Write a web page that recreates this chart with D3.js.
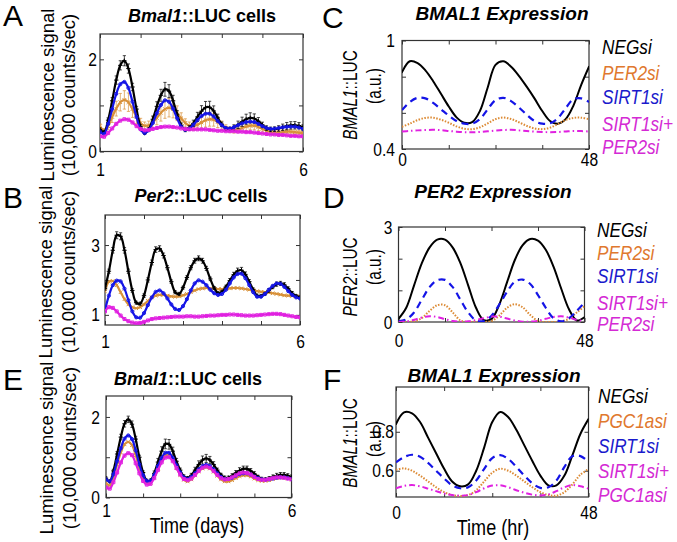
<!DOCTYPE html>
<html>
<head>
<meta charset="utf-8">
<script src="https://cdn.jsdelivr.net/npm/d3@7"></script>
<style>
  body { margin: 0; background: #fff; }
  text { font-family: "Liberation Sans", Arial, sans-serif; }
  .ax text { font-size: 19px; font-family: "Liberation Sans", Arial, sans-serif; fill: #000; }
  .ttl { font-weight: bold; }
  .letter { font-size: 30px; }
  .leg { font-size: 21px; font-style: italic; }
</style>
</head>
<body>
<svg id="fig" width="677" height="542"></svg>
<script>
// ---------- experimental time axis (days) ----------
var days = [1.0,1.1,1.2,1.3,1.4,1.5,1.6,1.7,1.8,1.9,2.0,2.1,2.2,2.3,2.4,2.5,2.6,2.7,2.8,2.9,
            3.0,3.1,3.2,3.3,3.4,3.5,3.6,3.7,3.8,3.9,4.0,4.1,4.2,4.3,4.4,4.5,4.6,4.7,4.8,4.9,
            5.0,5.1,5.2,5.3,5.4,5.5,5.6,5.7,5.8,5.9,6.0];

// Panel A: Bmal1::LUC cells
var blackA = [0.48,0.42,0.68,1.10,1.55,1.87,1.97,1.80,1.40,0.92, 0.54,0.40,0.48,0.70,0.98,1.22,1.35,1.31,1.10,0.81,
              0.57,0.47,0.51,0.61,0.75,0.875,0.956,0.96,0.88,0.73, 0.59,0.49,0.485,0.52,0.58,0.645,0.70,0.73,0.716,0.657,
              0.577,0.508,0.48,0.485,0.50,0.525,0.55,0.567,0.57,0.56, 0.52];
var blackAerr = [0.03,0.03,0.05,0.07,0.09,0.10,0.11,0.10,0.08,0.06, 0.04,0.03,0.04,0.07,0.10,0.13,0.15,0.14,0.12,0.08,
                 0.05,0.04,0.05,0.07,0.10,0.12,0.13,0.13,0.11,0.08, 0.05,0.04,0.04,0.06,0.08,0.10,0.11,0.11,0.10,0.08,
                 0.06,0.05,0.05,0.05,0.06,0.07,0.08,0.08,0.08,0.07, 0.06];
var orangeA = [0.55,0.45,0.55,0.75,0.93,1.07,1.12,1.07,0.92,0.75, 0.62,0.56,0.57,0.63,0.73,0.84,0.92,0.95,0.92,0.83,
               0.72,0.62,0.56,0.55,0.58,0.63,0.68,0.70,0.69,0.64, 0.57,0.51,0.47,0.46,0.48,0.51,0.54,0.56,0.56,0.53,
               0.49,0.45,0.42,0.41,0.41,0.42,0.43,0.43,0.42,0.41, 0.40];
var orangeAerr = [0.05,0.05,0.08,0.12,0.16,0.19,0.20,0.20,0.18,0.14, 0.10,0.08,0.09,0.12,0.15,0.18,0.20,0.20,0.19,0.16,
                  0.12,0.09,0.08,0.09,0.11,0.13,0.15,0.15,0.14,0.12, 0.09,0.07,0.06,0.06,0.07,0.08,0.09,0.09,0.09,0.08,
                  0.07,0.06,0.05,0.05,0.05,0.05,0.05,0.05,0.05,0.05, 0.05];
var blueA = [0.43,0.38,0.60,0.92,1.25,1.46,1.51,1.38,1.08,0.75, 0.48,0.40,0.46,0.62,0.83,1.01,1.11,1.08,0.93,0.72,
             0.54,0.47,0.50,0.58,0.68,0.77,0.82,0.82,0.76,0.66, 0.57,0.51,0.50,0.53,0.57,0.61,0.64,0.65,0.64,0.60,
             0.55,0.51,0.49,0.495,0.51,0.525,0.535,0.54,0.54,0.52, 0.49];
var magentaA = [0.33,0.32,0.40,0.50,0.60,0.67,0.70,0.69,0.63,0.55, 0.49,0.46,0.47,0.49,0.51,0.53,0.54,0.54,0.53,0.52,
                0.50,0.49,0.48,0.48,0.48,0.48,0.48,0.47,0.46,0.45, 0.45,0.44,0.44,0.44,0.43,0.43,0.42,0.42,0.41,0.40,
                0.39,0.38,0.37,0.37,0.36,0.36,0.35,0.34,0.34,0.33, 0.33];

// Panel B: Per2::LUC cells
var blackB = [1.76,2.25,2.85,3.28,3.25,2.85,2.25,1.70,1.35,1.32, 1.55,2.00,2.50,2.87,2.90,2.70,2.35,1.95,1.65,1.60,
              1.78,2.07,2.35,2.55,2.62,2.55,2.33,2.03,1.77,1.62, 1.66,1.80,1.98,2.15,2.26,2.28,2.16,1.95,1.72,1.55,
              1.54,1.60,1.70,1.80,1.88,1.90,1.86,1.75,1.62,1.54, 1.50];
var blackBerr = [0.05,0.06,0.08,0.10,0.10,0.08,0.06,0.05,0.04,0.04, 0.05,0.06,0.07,0.08,0.08,0.07,0.06,0.05,0.04,0.04,
                 0.04,0.05,0.06,0.07,0.07,0.07,0.06,0.05,0.04,0.04, 0.04,0.05,0.06,0.07,0.08,0.08,0.07,0.06,0.05,0.04,
                 0.04,0.04,0.05,0.05,0.06,0.06,0.06,0.05,0.05,0.04, 0.04];
var orangeB = [1.67,1.95,1.97,1.85,1.65,1.45,1.30,1.22,1.19,1.22, 1.30,1.40,1.50,1.55,1.57,1.57,1.55,1.53,1.52,1.53,
               1.56,1.60,1.65,1.70,1.74,1.76,1.77,1.76,1.75,1.74, 1.74,1.75,1.76,1.77,1.77,1.76,1.74,1.72,1.70,1.68,
               1.66,1.65,1.64,1.62,1.60,1.58,1.56,1.55,1.54,1.53, 1.52];
var blueB = [1.14,1.55,1.85,1.98,1.96,1.75,1.42,1.10,0.93,0.92, 1.05,1.28,1.50,1.66,1.70,1.62,1.47,1.30,1.17,1.14,
             1.25,1.45,1.70,1.90,1.99,1.95,1.85,1.72,1.62,1.57, 1.60,1.72,1.90,2.07,2.17,2.18,2.05,1.85,1.65,1.52,
             1.52,1.60,1.72,1.83,1.90,1.89,1.80,1.68,1.57,1.50, 1.47];
var magentaB = [1.10,1.22,1.20,1.10,0.98,0.88,0.82,0.78,0.76,0.77, 0.80,0.84,0.88,0.90,0.91,0.92,0.93,0.94,0.95,0.95,
                0.95,0.96,0.96,0.95,0.95,0.96,0.97,0.98,0.98,0.99, 1.00,1.00,1.01,1.01,1.00,0.99,0.98,0.98,0.98,0.99,
                1.00,1.01,1.02,1.03,1.03,1.02,1.00,0.98,0.96,0.94, 0.93];

// Panel E: Bmal1::LUC cells (PGC1a)
var blackE = [0.48,0.40,0.66,1.08,1.50,1.83,1.94,1.82,1.45,1.00, 0.62,0.42,0.42,0.60,0.88,1.15,1.33,1.32,1.15,0.90,
              0.68,0.52,0.48,0.55,0.68,0.82,0.93,0.97,0.93,0.82, 0.68,0.56,0.49,0.49,0.54,0.61,0.67,0.71,0.71,0.66,
              0.59,0.51,0.46,0.45,0.47,0.51,0.54,0.56,0.56,0.54, 0.51];
var blackEerr = [0.03,0.03,0.04,0.06,0.07,0.08,0.08,0.08,0.07,0.05, 0.04,0.03,0.04,0.06,0.09,0.11,0.12,0.12,0.10,0.07,
                 0.05,0.04,0.04,0.05,0.07,0.09,0.10,0.10,0.09,0.07, 0.05,0.04,0.04,0.04,0.05,0.06,0.07,0.07,0.07,0.06,
                 0.05,0.04,0.04,0.04,0.05,0.05,0.06,0.06,0.06,0.05, 0.05];
var orangeE = [0.35,0.30,0.50,0.82,1.12,1.32,1.38,1.30,1.05,0.73, 0.48,0.35,0.36,0.50,0.72,0.92,1.04,1.04,0.93,0.74,
               0.56,0.44,0.40,0.45,0.55,0.65,0.72,0.75,0.72,0.64, 0.54,0.45,0.40,0.40,0.43,0.48,0.53,0.55,0.55,0.52,
               0.47,0.43,0.41,0.41,0.43,0.46,0.48,0.49,0.49,0.47, 0.45];
var blueE = [0.45,0.40,0.58,0.90,1.22,1.46,1.54,1.45,1.17,0.82, 0.55,0.41,0.41,0.56,0.78,0.98,1.11,1.11,0.98,0.80,
             0.62,0.50,0.46,0.51,0.60,0.70,0.78,0.81,0.78,0.70, 0.60,0.51,0.46,0.46,0.49,0.54,0.58,0.60,0.60,0.57,
             0.52,0.48,0.45,0.44,0.45,0.47,0.49,0.50,0.50,0.48, 0.46];
var magentaE = [0.25,0.22,0.38,0.62,0.87,1.04,1.10,1.05,0.85,0.60, 0.41,0.32,0.34,0.48,0.68,0.87,0.99,1.00,0.90,0.73,
                0.57,0.46,0.43,0.47,0.56,0.66,0.74,0.77,0.74,0.66, 0.56,0.48,0.45,0.46,0.50,0.55,0.60,0.62,0.61,0.57,
                0.51,0.46,0.44,0.44,0.46,0.48,0.50,0.50,0.49,0.47, 0.45];

// ---------- model time axis (hours) ----------
var hours = [0,2,4,6,8,10,12,14,16,18,20,22,24,26,28,30,32,34,36,38,40,42,44,46,48];

// Panel C: BMAL1 expression
var negC   = [0.825,0.885,0.875,0.835,0.775,0.705,0.635,0.575,0.545,0.548,0.61,0.74,0.865,0.885,0.855,0.805,0.745,0.68,0.61,0.555,0.54,0.565,0.64,0.755,0.855];
var per2C  = [0.523,0.54,0.56,0.572,0.573,0.562,0.545,0.525,0.512,0.51,0.52,0.542,0.565,0.574,0.566,0.548,0.528,0.514,0.51,0.518,0.538,0.56,0.572,0.573,0.565];
var sirtC  = [0.615,0.66,0.683,0.68,0.655,0.62,0.585,0.555,0.54,0.54,0.565,0.62,0.67,0.683,0.665,0.63,0.59,0.555,0.54,0.542,0.57,0.625,0.675,0.68,0.66];
var bothC  = [0.497,0.5,0.503,0.505,0.506,0.504,0.5,0.496,0.493,0.492,0.494,0.498,0.502,0.505,0.506,0.503,0.5,0.496,0.494,0.493,0.494,0.497,0.5,0.499,0.497];

// Panel D: PER2 expression
var negD   = [0.1,0.45,1.15,1.85,2.35,2.6,2.6,2.35,1.85,1.15,0.45,0.06,0.1,0.55,1.25,1.95,2.42,2.62,2.57,2.28,1.75,1.05,0.4,0.05,0.15];
var per2D  = [0,0,0.02,0.12,0.35,0.53,0.53,0.3,0.05,0,0,0,0.03,0.2,0.45,0.56,0.47,0.22,0.03,0,0,0.02,0.1,0.3,0.5];
var sirtD  = [0.02,0.08,0.3,0.7,1.1,1.32,1.33,1.1,0.7,0.3,0.05,0.03,0.2,0.55,0.95,1.27,1.34,1.2,0.85,0.45,0.12,0.02,0.12,0.35,0.62];
var bothD  = [0,0.02,0.07,0.14,0.18,0.16,0.09,0.03,0.01,0.02,0.06,0.12,0.17,0.17,0.11,0.05,0.01,0.01,0.04,0.1,0.16,0.18,0.14,0.07,0.03];

// Panel F: BMAL1 expression (PGC1a)
var negF   = [0.84,0.9,0.895,0.85,0.77,0.69,0.61,0.545,0.52,0.53,0.6,0.72,0.85,0.902,0.875,0.81,0.73,0.65,0.575,0.525,0.525,0.575,0.68,0.79,0.865];
var pgcF   = [0.605,0.612,0.6,0.575,0.545,0.515,0.49,0.475,0.47,0.475,0.5,0.545,0.59,0.61,0.6,0.575,0.545,0.515,0.49,0.475,0.472,0.49,0.53,0.58,0.607];
var sirtF  = [0.643,0.67,0.682,0.672,0.64,0.6,0.56,0.525,0.51,0.515,0.55,0.61,0.665,0.68,0.66,0.62,0.575,0.535,0.512,0.515,0.55,0.62,0.675,0.675,0.645];
var bothF  = [0.51,0.522,0.526,0.52,0.508,0.495,0.483,0.475,0.472,0.475,0.49,0.51,0.524,0.525,0.515,0.5,0.487,0.477,0.473,0.478,0.495,0.515,0.526,0.52,0.508];

// ---------- colours ----------
var cBlack = "#000000", cOrange = "#d8913a", cBlue = "#1414e6", cMag = "#e020e0";
var cOrangeLine = "#dc8a34", cOrangeTxt = "#e0782e", cBlueTxt = "#1a1acc", cMagTxt = "#d42ad4";
var NARROW = 0.82; // the figure uses a condensed face; squeeze Liberation Sans to match

var svg = d3.select("#fig");
svg.append("rect").attr("width", 677).attr("height", 542).attr("fill", "#fff");

var clipId = 0;

//Builds a framed MATLAB style axes box with inward ticks
function makeAxes(p) {
  var g = svg.append("g");
  var x = d3.scaleLinear().domain(p.xd).range([p.x0, p.x1]);
  var y = d3.scaleLinear().domain(p.yd).range([p.y1, p.y0]);
  var tk = 4;

  var bx = g.append("g").attr("class", "ax").attr("transform", "translate(0," + p.y1 + ")")
    .call(d3.axisBottom(x).tickValues(p.xt).tickSize(-tk).tickPadding(p.xpad)
      .tickFormat(function(d) { return p.xl.indexOf(d) >= 0 ? String(d) : ""; }));
  bx.selectAll("text").attr("transform", "scale(" + NARROW + ",1)");
  g.append("g").attr("class", "ax").attr("transform", "translate(0," + p.y0 + ")")
    .call(d3.axisTop(x).tickValues(p.xt).tickSize(-tk).tickFormat(""));
  var ly = g.append("g").attr("class", "ax").attr("transform", "translate(" + p.x0 + ",0)")
    .call(d3.axisLeft(y).tickValues(p.yt).tickSize(-tk).tickPadding(p.ypad)
      .tickFormat(function(d) { return p.yl.indexOf(d) >= 0 ? String(d) : ""; }));
  ly.selectAll("text").attr("x", -p.ypad / NARROW).attr("transform", "scale(" + NARROW + ",1)");
  g.append("g").attr("class", "ax").attr("transform", "translate(" + p.x1 + ",0)")
    .call(d3.axisRight(y).tickValues(p.yt).tickSize(-tk).tickFormat(""));
  g.selectAll(".ax .domain").remove();
  g.selectAll(".ax").attr("color", "#333");

  g.append("rect").attr("x", p.x0).attr("y", p.y0)
    .attr("width", p.x1 - p.x0).attr("height", p.y1 - p.y0)
    .attr("fill", "none").attr("stroke", "#333").attr("stroke-width", 1.2);

  clipId++;
  svg.append("clipPath").attr("id", "clip" + clipId).append("rect")
    .attr("x", p.x0).attr("y", p.y0 - 1).attr("width", p.x1 - p.x0).attr("height", p.y1 - p.y0 + 1);
  var plot = svg.append("g").attr("clip-path", "url(#clip" + clipId + ")");
  return { x: x, y: y, plot: plot };
}

// draws one measured series: error bars, line and markers
function dataSeries(ax, vals, err, color, marker) {
  var pts = vals.map(function(v, i) { return [ax.x(days[i]), ax.y(v), i]; });
  if (err) {
    var d = pts.map(function(q) {
      var lo = ax.y(vals[q[2]] - err[q[2]]), hi = ax.y(vals[q[2]] + err[q[2]]);
      return "M" + q[0] + "," + lo + "V" + hi + "M" + (q[0] - 1.6) + "," + hi + "h3.2M" + (q[0] - 1.6) + "," + lo + "h3.2";
    }).join("");
    ax.plot.append("path").attr("d", d).attr("stroke", color).attr("stroke-width", 1).attr("fill", "none").attr("opacity", 0.7);
  }
  var line = d3.line().x(function(q) { return q[0]; }).y(function(q) { return q[1]; }).curve(d3.curveCatmullRom);
  ax.plot.append("path").datum(pts).attr("d", line)
    .attr("fill", "none").attr("stroke", color).attr("stroke-width", 2.2);

  var md;
  if (marker === "plus") {
    md = pts.map(function(q) { return "M" + (q[0] - 2.2) + "," + q[1] + "h4.4M" + q[0] + "," + (q[1] - 2.2) + "v4.4"; }).join("");
  } else if (marker === "x") {
    md = pts.map(function(q) { return "M" + (q[0] - 1.8) + "," + (q[1] - 1.8) + "l3.6,3.6M" + (q[0] - 1.8) + "," + (q[1] + 1.8) + "l3.6,-3.6"; }).join("");
  } else if (marker === "square") {
    md = pts.map(function(q) { return "M" + (q[0] - 1.5) + "," + (q[1] - 1.5) + "h3v3h-3z"; }).join("");
  } else {
    md = pts.map(function(q) { return "M" + (q[0] - 1.6) + "," + q[1] + "a1.6,1.6 0 1,0 3.2,0a1.6,1.6 0 1,0 -3.2,0"; }).join("");
  }
  ax.plot.append("path").attr("d", md).attr("fill", "none").attr("stroke", color).attr("stroke-width", 1);
}

// draws one model curve
function modelSeries(ax, vals, color, dash, sw) {
  var line = d3.line().x(function(d, i) { return ax.x(hours[i]); }).y(function(d) { return ax.y(d); }).curve(d3.curveCatmullRom);
  ax.plot.append("path").datum(vals).attr("d", line)
    .attr("fill", "none").attr("stroke", color).attr("stroke-width", sw)
    .attr("stroke-dasharray", dash).attr("stroke-linecap", dash ? "butt" : "round");
}

function richText(sel, parts) {
  parts.forEach(function(pt) {
    var t = sel.append("tspan").text(pt[0]);
    if (pt[1]) t.attr("font-style", "italic");
  });
}

// rotated axis label; sx squeezes along the text direction
function yLabel(x, yc, parts, size, sx) {
  var t = svg.append("text")
    .attr("transform", "translate(" + x + "," + yc + ") rotate(-90) scale(" + sx + ",1)")
    .attr("text-anchor", "middle").attr("dominant-baseline", "central")
    .attr("font-size", size);
  richText(t, parts);
}

// horizontal condensed text
function nText(x, y, str, size, anchor, cls, color) {
  return svg.append("text").attr("class", cls || null)
    .attr("transform", "translate(" + x + "," + y + ") scale(" + NARROW + ",1)")
    .attr("text-anchor", anchor).attr("font-size", size).attr("fill", color || "#000").text(str);
}

function title(x, y, parts, size, italic) {
  var t = svg.append("text").attr("class", "ttl").attr("x", x).attr("y", y)
    .attr("text-anchor", "middle").attr("font-size", size);
  if (italic) t.attr("font-style", "italic");
  richText(t, parts);
}

function letter(x, y, s) {
  svg.append("text").attr("class", "letter").attr("x", x).attr("y", y).text(s);
}

function legend(x, ys, labels, colors) {
  labels.forEach(function(l, i) {
    nText(x, ys[i], l, 21, "start", "leg", colors[i]);
  });
}

// ================= Panel A =================
var axA = makeAxes({x0: 100, x1: 303, y0: 34, y1: 151.5, xd: [1, 6], yd: [0, 2.55],
  xt: [1, 2, 3, 4, 5, 6], xl: [1, 6], yt: [0, 1, 2], yl: [0, 2], xpad: 11, ypad: 3});
dataSeries(axA, orangeA, orangeAerr, cOrange, "x");
dataSeries(axA, blackA, blackAerr, cBlack, "plus");
dataSeries(axA, blueA, null, cBlue, "circle");
dataSeries(axA, magentaA, null, cMag, "square");
title(202, 22, [["Bmal1", true], ["::LUC cells", false]], 18, false);
letter(3, 26, "A");
yLabel(47, 95, [["Luminescence signal", false]], 18.5, 1);
yLabel(68, 95, [["(10,000 counts/sec)", false]], 18.5, 1);

// ================= Panel B =================
var axB = makeAxes({x0: 105, x1: 300, y0: 215, y1: 325, xd: [1, 6], yd: [0.71, 3.86],
  xt: [1, 2, 3, 4, 5, 6], xl: [1, 6], yt: [1, 2, 3], yl: [1, 3], xpad: 10, ypad: 5});
dataSeries(axB, orangeB, null, cOrange, "x");
dataSeries(axB, blackB, blackBerr, cBlack, "plus");
dataSeries(axB, blueB, null, cBlue, "circle");
dataSeries(axB, magentaB, null, cMag, "square");
title(201, 202, [["Per2", true], ["::LUC cells", false]], 18, false);
letter(3, 208, "B");
yLabel(45, 272, [["Luminescence signal", false]], 18.5, 1);
yLabel(68, 272, [["(10,000 counts/sec)", false]], 18.5, 1);

// ================= Panel E =================
var axE = makeAxes({x0: 106, x1: 291.5, y0: 396, y1: 497.5, xd: [1, 6], yd: [0, 2.52],
  xt: [1, 2, 3, 4, 5, 6], xl: [1, 6], yt: [0, 1, 2], yl: [0, 2], xpad: 6, ypad: 6});
dataSeries(axE, blackE, blackEerr, cBlack, "plus");
dataSeries(axE, orangeE, null, cOrange, "x");
dataSeries(axE, blueE, null, cBlue, "circle");
dataSeries(axE, magentaE, null, cMag, "square");
title(188, 385, [["Bmal1", true], ["::LUC cells", false]], 18, false);
letter(3, 390, "E");
yLabel(46, 448, [["Luminescence signal", false]], 18.5, 1);
yLabel(69, 448, [["(10,000 counts/sec)", false]], 18.5, 1);
nText(197, 533, "Time (days)", 22, "middle");

// ================= Panel C =================
var axC = makeAxes({x0: 402, x1: 589, y0: 40.5, y1: 149, xd: [0, 48], yd: [0.4, 1],
  xt: [0, 12, 24, 36, 48], xl: [0, 48], yt: [0.4, 0.6, 0.8, 1], yl: [0.4, 1], xpad: 4, ypad: 7});
modelSeries(axC, negC, cBlack, null, 2);
modelSeries(axC, per2C, cOrangeLine, "1.5,1.5", 2);
modelSeries(axC, sirtC, cBlue, "7,5", 2.2);
modelSeries(axC, bothC, cMag, "6,3,1.5,3", 2);
title(502, 20, [["BMAL1 Expression", false]], 19, true);
letter(322, 28, "C");
yLabel(349, 95, [["BMAL1", true], ["::LUC", false]], 21, 0.73);
yLabel(373, 86, [["(a.u.)", false]], 21, 0.73);
legend(602, [54, 80, 104, 131, 154], ["NEGsi", "PER2si", "SIRT1si", "SIRT1si+", "PER2si"],
  [cBlack, cOrangeTxt, cBlueTxt, cMagTxt, cMagTxt]);

// ================= Panel D =================
var axD = makeAxes({x0: 398.5, x1: 584.5, y0: 227, y1: 322, xd: [0, 48], yd: [0, 3],
  xt: [0, 12, 24, 36, 48], xl: [0, 48], yt: [0, 1, 2, 3], yl: [0, 3], xpad: 12, ypad: 6});
modelSeries(axD, negD, cBlack, null, 2);
modelSeries(axD, per2D, cOrangeLine, "1.5,1.5", 2);
modelSeries(axD, sirtD, cBlue, "7,5", 2.2);
modelSeries(axD, bothD, cMag, "6,3,1.5,3", 2);
title(493, 198, [["PER2 Expression", false]], 19, true);
letter(323, 208, "D");
yLabel(349, 277, [["PER2", true], ["::LUC", false]], 21, 0.73);
yLabel(373, 267, [["(a.u.)", false]], 21, 0.73);
legend(597, [237, 260, 283, 310, 331], ["NEGsi", "PER2si", "SIRT1si", "SIRT1si+", "PER2si"],
  [cBlack, cOrangeTxt, cBlueTxt, cMagTxt, cMagTxt]);

// ================= Panel F =================
var axF = makeAxes({x0: 396, x1: 588.5, y0: 387, y1: 497, xd: [0, 48], yd: [0.465, 1.03],
  xt: [0, 12, 24, 36, 48], xl: [0, 48], yt: [0.6, 0.8], yl: [0.6, 0.8], xpad: 9, ypad: 2});
modelSeries(axF, negF, cBlack, null, 2);
modelSeries(axF, pgcF, cOrangeLine, "1.5,1.5", 2);
modelSeries(axF, sirtF, cBlue, "7,5", 2.2);
modelSeries(axF, bothF, cMag, "6,3,1.5,3", 2);
title(494, 382, [["BMAL1 Expression", false]], 19, true);
letter(323, 390, "F");
yLabel(349, 443, [["BMAL1", true], ["::LUC", false]], 21, 0.73);
yLabel(373, 439, [["(a.u.)", false]], 21, 0.73);
legend(598, [403, 428, 453, 478, 502], ["NEGsi", "PGC1asi", "SIRT1si", "SIRT1si+", "PGC1asi"],
  [cBlack, cOrangeTxt, cBlueTxt, cMagTxt, cMagTxt]);
nText(493, 535, "Time (hr)", 22, "middle");
</script>
</body>
</html>
